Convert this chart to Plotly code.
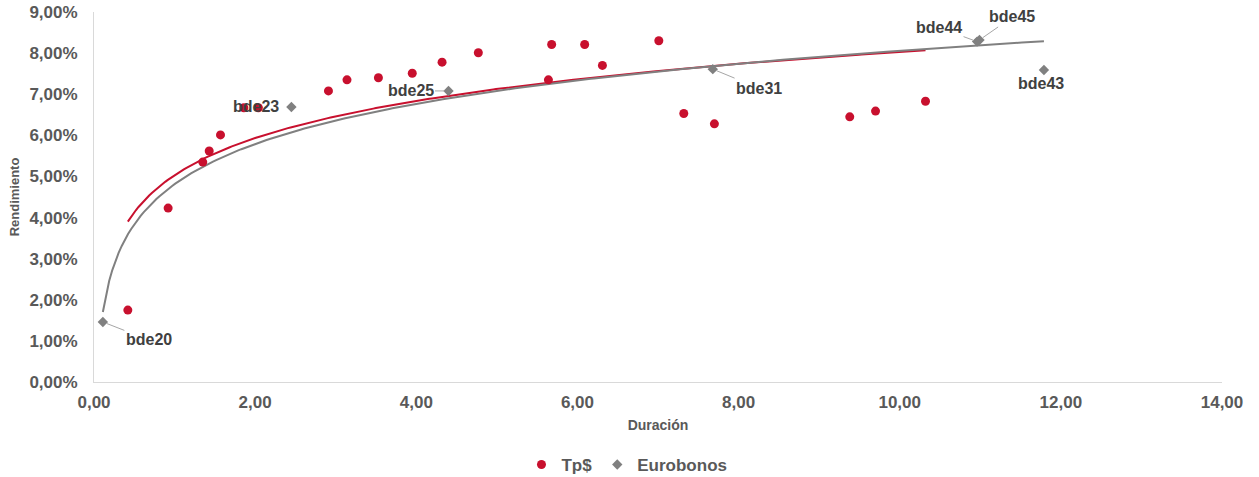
import numpy as np
import plotly.graph_objects as go

# ---- data ----
tp_duration = [0.42, 0.92, 1.35, 1.43, 1.57, 1.86, 2.04, 2.91, 3.14, 3.53, 3.95,
               4.32, 4.77, 5.64, 5.68, 6.09, 6.31, 7.01, 7.32, 7.70, 9.38, 9.70, 10.32]
tp_yield = [0.0175, 0.0423, 0.0535, 0.0562, 0.0601, 0.0667, 0.0667, 0.0708, 0.0735,
            0.0740, 0.0751, 0.0778, 0.0801, 0.0735, 0.0821, 0.0821, 0.0770, 0.0830,
            0.0653, 0.0628, 0.0645, 0.0659, 0.0683]

euro_names = ["bde20", "bde23", "bde25", "bde31", "bde44", "bde45", "bde43"]
euro_duration = [0.11, 2.45, 4.40, 7.68, 10.96, 10.99, 11.79]
euro_yield = [0.0146, 0.0669, 0.0708, 0.0761, 0.0828, 0.0832, 0.0759]

x_ticks = [0, 2, 4, 6, 8, 10, 12, 14]
y_ticks = [0, 0.01, 0.02, 0.03, 0.04, 0.05, 0.06, 0.07, 0.08, 0.09]

# label offsets (pixels) for the data labels
label_offsets = {
    "bde20": (46, 18, True),
    "bde23": (-35, 0, False),
    "bde25": (-38, 0, True),
    "bde31": (46, 19, True),
    "bde44": (-38, -14, True),
    "bde45": (33, -23, True),
    "bde43": (-3, 14, False),
}

RED = "#C8102E"
GRAY = "#808080"
TXT = "#595959"
FONT = "Liberation Sans, Arial"


def log_fit(xs, ys):
    lx = np.log(np.array(xs))
    b, a = np.polyfit(lx, np.array(ys), 1)
    grid = np.linspace(min(xs), max(xs), 300)
    return grid, a + b * np.log(grid)


fig = go.Figure()

gx, gy = log_fit(tp_duration, tp_yield)
fig.add_trace(go.Scatter(x=gx, y=gy, mode="lines", line=dict(color=RED, width=2),
                         showlegend=False, hoverinfo="skip"))
ex, ey = log_fit(euro_duration, euro_yield)
fig.add_trace(go.Scatter(x=ex, y=ey, mode="lines", line=dict(color=GRAY, width=2),
                         showlegend=False, hoverinfo="skip"))

fig.add_trace(go.Scatter(x=tp_duration, y=tp_yield, mode="markers", name="Tp$",
                         marker=dict(color=RED, size=9, symbol="circle")))
fig.add_trace(go.Scatter(x=euro_duration, y=euro_yield, mode="markers", name="Eurobonos",
                         marker=dict(color=GRAY, size=8, symbol="diamond")))

for name, xv, yv in zip(euro_names, euro_duration, euro_yield):
    ax, ay, arrow = label_offsets[name]
    fig.add_annotation(x=xv, y=yv, text=name, showarrow=True, ax=ax, ay=ay,
                       arrowhead=0, arrowwidth=1,
                       arrowcolor="#A6A6A6" if arrow else "rgba(0,0,0,0)",
                       standoff=4,
                       font=dict(family=FONT, size=16, color="#404040", weight="bold"))

fig.update_layout(
    width=1259, height=477,
    margin=dict(l=94, r=37, t=12, b=95, autoexpand=False),
    paper_bgcolor="white", plot_bgcolor="white",
    separators=",.",
    font=dict(family=FONT, color=TXT),
    legend=dict(orientation="h", x=0.498, xanchor="center", xref="container",
                y=(477 - 465) / 477, yanchor="middle", yref="container",
                font=dict(size=17, color=TXT, weight="bold"), itemwidth=30,
                tracegroupgap=0),
    showlegend=True,
)

fig.update_xaxes(range=[0, 14], tickvals=x_ticks, tickformat=".2f", automargin=False,
                 showgrid=False, zeroline=False, showline=True, linecolor="#D9D9D9",
                 linewidth=1, ticks="", ticklabelstandoff=5,
                 tickfont=dict(size=17, color=TXT, weight="bold"),
                 title=dict(text="Duración", font=dict(size=14, color=TXT, weight="bold"),
                            standoff=8))
fig.update_yaxes(range=[0, 0.09], tickvals=y_ticks, tickformat=".2%", automargin=False,
                 showgrid=False, zeroline=False, showline=True, linecolor="#D9D9D9",
                 linewidth=1, ticks="", ticklabelstandoff=12,
                 tickfont=dict(size=17, color=TXT, weight="bold"),
                 title=dict(text="Rendimiento", font=dict(size=13, color=TXT, weight="bold"),
                            standoff=6))

fig.write_html("out.html")
